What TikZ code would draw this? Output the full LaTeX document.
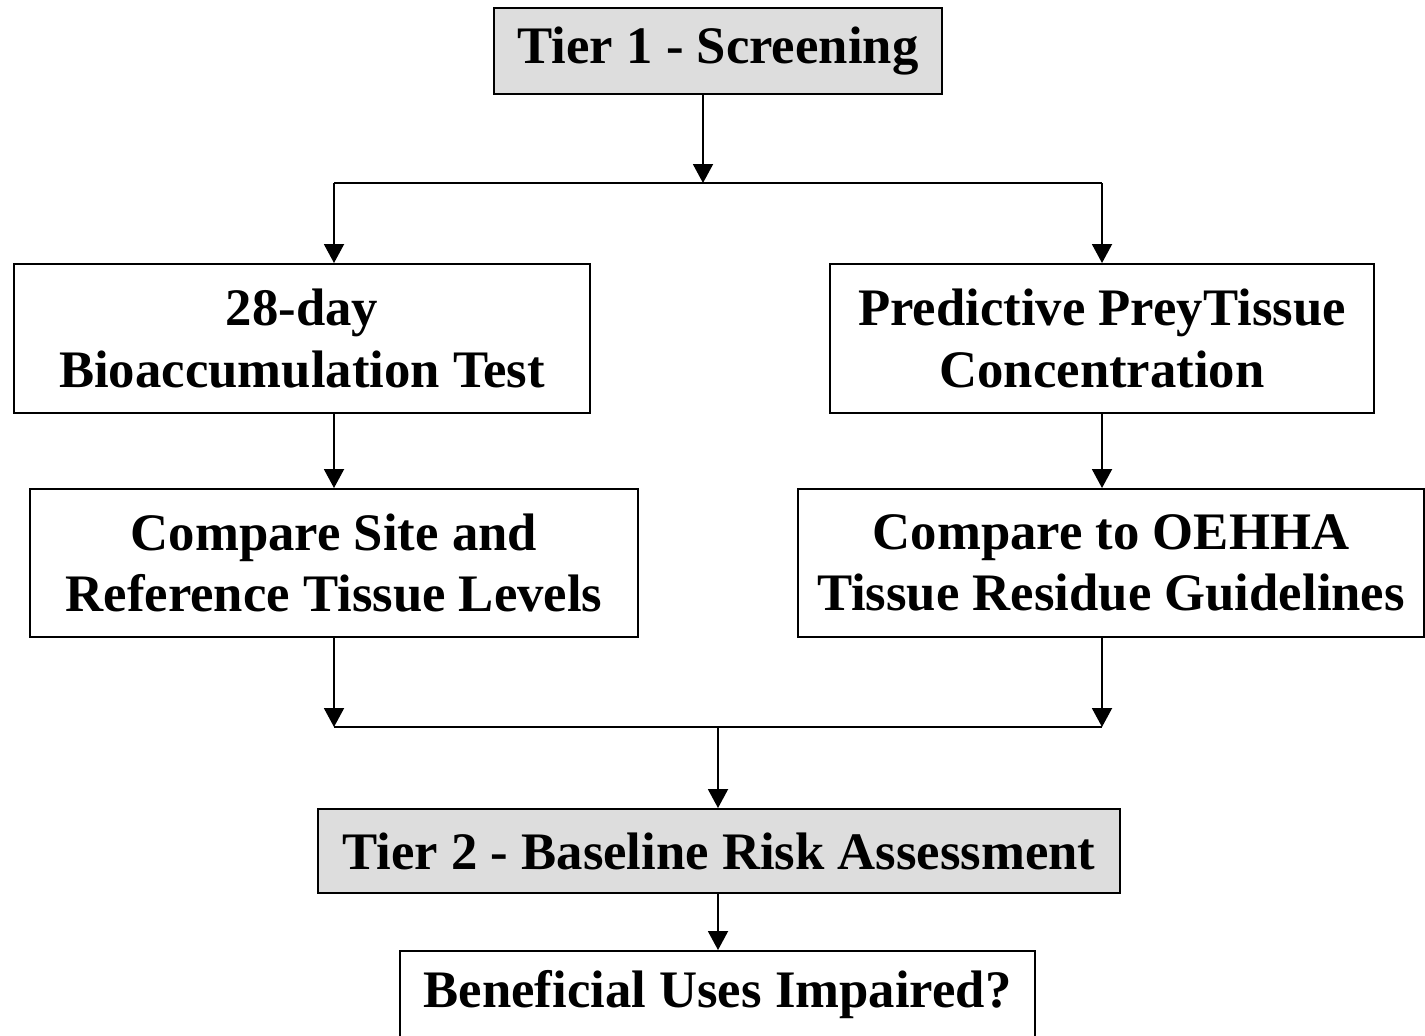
\documentclass[tikz,border=0pt]{standalone}
\usepackage{fontspec}
\setmainfont{Liberation Serif}
\usepackage{tikz}
\usetikzlibrary{arrows.meta,positioning}
\definecolor{ink}{HTML}{000000}
\definecolor{tierfill}{HTML}{DDDDDD}
\tikzset{
  >={Triangle[length=0.38cm,width=0.4cm]},
  box/.style={draw=ink, fill=white, align=center, inner sep=0pt, line width=1.1pt,
    font=\fontsize{30}{35}\selectfont\bfseries, text=ink},
  tierbox/.style={box, fill=tierfill},
  arr/.style={->, draw=ink, line width=1.1pt},
  link/.style={draw=ink, line width=1.1pt},
}
\begin{document}
\begin{tikzpicture}
  \useasboundingbox (0,0) rectangle (28.5,-20.7);
  \clip (0,0) rectangle (28.5,-20.7);

  % ---------------- tier 1 ----------------
  \node[tierbox, minimum width=8.96cm, minimum height=1.72cm] (t1) at (14.36,-1.02) {Tier 1 - Screening};
  \coordinate (j1) at (14.06,-3.66);
  \coordinate (j1l) at (6.68,-3.66);
  \coordinate (j1r) at (22.04,-3.66);

  % ---------------- two lines of evidence ----------------
  \node[box, minimum width=11.52cm, minimum height=2.98cm] (bio) at (6.04,-6.77) {28-day\\ Bioaccumulation Test};
  \node[box, minimum width=10.88cm, minimum height=2.98cm] (prey) at (22.04,-6.77) {Predictive PreyTissue\\ Concentration};
  \node[box, minimum width=12.16cm, minimum height=2.96cm] (site) at (6.68,-11.26) {Compare Site and\\ Reference Tissue Levels};
  \node[box, minimum width=12.52cm, minimum height=2.96cm] (oehha) at (22.22,-11.26) {Compare to OEHHA\\ Tissue Residue Guidelines};
  \coordinate (j2) at (14.36,-14.54);
  \coordinate (j2l) at (6.68,-14.54);
  \coordinate (j2r) at (22.04,-14.54);

  % ---------------- tier 2 ----------------
  \node[tierbox, minimum width=16.04cm, minimum height=1.68cm] (t2) at (14.38,-17.02) {Tier 2 - Baseline Risk Assessment};
  \node[box, minimum width=12.7cm, minimum height=1.76cm] (ben) at (14.35,-19.9) {Beneficial Uses Impaired?};

  % ---------------- connectors ----------------
  \draw[arr] (t1.south -| j1) -- (j1);
  \draw[link] (j1l) -- (j1r);
  \draw[arr] (j1l) -- (j1l |- bio.north);
  \draw[arr] (j1r) -- (prey.north);
  \draw[arr] (bio.south -| j1l) -- (site.north);
  \draw[arr] (prey.south) -- (prey.south |- oehha.north);
  \draw[arr] (site.south) -- (j2l);
  \draw[arr] (oehha.south -| j2r) -- (j2r);
  \draw[link] (j2l) -- (j2r);
  \draw[arr] (j2) -- (j2 |- t2.north);
  \draw[arr] (t2.south -| j2) -- (j2 |- ben.north);
\end{tikzpicture}
\end{document}
